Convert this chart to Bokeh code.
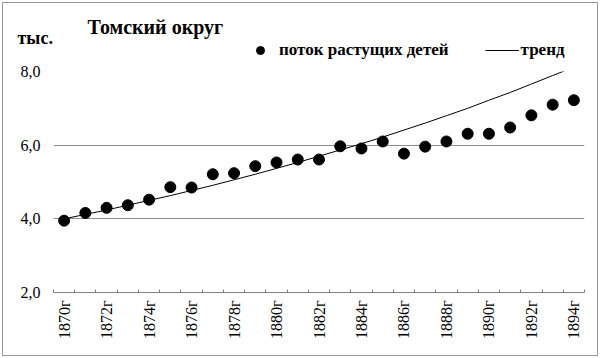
from bokeh.plotting import figure
from bokeh.layouts import column
from bokeh.models import (FixedTicker, Label, Legend, LegendItem, Range1d,
                          ColumnDataSource, InlineStyleSheet)
from bokeh.embed import file_html
from bokeh.resources import INLINE
from math import pi

years = list(range(1870, 1895))
flow = [3.95, 4.16, 4.30, 4.37, 4.52, 4.86, 4.85, 5.21, 5.24, 5.43, 5.53, 5.61,
        5.61, 5.97, 5.91, 6.10, 5.77, 5.96, 6.10, 6.31, 6.31, 6.48, 6.81, 7.10, 7.22]
trend = [4.00, 4.12, 4.24, 4.37, 4.50, 4.63, 4.77, 4.91, 5.06, 5.21, 5.37, 5.53,
         5.70, 5.87, 6.04, 6.22, 6.41, 6.60, 6.80, 7.00, 7.22, 7.43, 7.66, 7.89, 8.12]
y_ticks = [2, 4, 6, 8]
y_labels = ["2,0", "4,0", "6,0", "8,0"]
x_label_years = years[::2]
x_labels = [f"{y}г" for y in x_label_years]
title_text = "Томский округ"
unit_text = "тыс."
series_names = ["поток растущих детей", "тренд"]

FONT = "Liberation Serif"
DOT_SIZE = 11


def no_frame_align(fig):
    if "frame_align" in fig.properties():
        fig.frame_align = False


src = ColumnDataSource(dict(year=years, flow=flow, trend=trend))

# ---------- header (title, unit, legend) ----------
hdr = figure(width=600, height=63, output_backend="svg", toolbar_location=None,
             x_range=Range1d(0, 1), y_range=Range1d(0, 1),
             x_axis_type=None, y_axis_type=None,
             min_border=0, min_border_left=0, min_border_right=0,
             min_border_top=0, min_border_bottom=0)
hdr.outline_line_color = None
hdr.grid.visible = False
no_frame_align(hdr)

hdr.add_layout(Label(x=87, y=37, x_units="screen", y_units="screen",
                     text=title_text, text_font=FONT, text_font_size="20px",
                     text_font_style="bold", text_color="black",
                     text_baseline="alphabetic"))
hdr.add_layout(Label(x=17, y=26, x_units="screen", y_units="screen",
                     text=unit_text, text_font=FONT, text_font_size="18px",
                     text_font_style="bold", text_color="black",
                     text_baseline="alphabetic"))

# legend proxies: same data, but outside the header's ranges (never visible)
h_dot = hdr.scatter("year", "flow", source=src, size=DOT_SIZE, color="black")
h_line = hdr.line("year", "trend", source=src, line_color="black", line_width=1)
legend = Legend(items=[LegendItem(label=series_names[0], renderers=[h_dot]),
                       LegendItem(label=series_names[1], renderers=[h_line])],
                location=(243, 3), orientation="horizontal",
                glyph_width=34, glyph_height=20, label_standoff=2, spacing=36,
                padding=0, margin=0,
                border_line_color=None, background_fill_alpha=0,
                label_text_font=FONT, label_text_font_size="17px",
                label_text_font_style="bold", label_text_color="black")
hdr.add_layout(legend, "center")

# ---------- main chart ----------
p = figure(width=600, height=295, output_backend="svg", toolbar_location=None,
           x_range=Range1d(1869.5, 1894.5), y_range=Range1d(2, 8),
           min_border_left=53, min_border_right=16, min_border_top=8,
           min_border_bottom=66)
p.outline_line_color = None
no_frame_align(p)

p.line("year", "trend", source=src, line_color="black", line_width=1)
p.scatter("year", "flow", source=src, size=DOT_SIZE, color="black")

p.xaxis.ticker = FixedTicker(ticks=x_label_years,
                             minor_ticks=[y - 0.5 for y in years] + [years[-1] + 0.5])
p.xaxis.major_label_overrides = {y: l for y, l in zip(x_label_years, x_labels)}
p.xaxis.major_label_orientation = pi / 2
p.xaxis.major_tick_out = 0
p.xaxis.major_tick_in = 0
p.xaxis.minor_tick_in = 3
p.xaxis.minor_tick_out = 0
p.xaxis.minor_tick_line_color = "#808080"
p.xaxis.axis_line_color = "#808080"
p.xaxis.major_label_text_font = FONT
p.xaxis.major_label_text_font_size = "16px"
p.xaxis.major_label_text_color = "black"
p.xaxis.major_label_standoff = 8

p.yaxis.ticker = FixedTicker(ticks=y_ticks)
p.yaxis.major_label_overrides = {t: l for t, l in zip(y_ticks, y_labels)}
p.yaxis.axis_line_color = None
p.yaxis.major_tick_line_color = None
p.yaxis.major_tick_out = 0
p.yaxis.major_tick_in = 0
p.yaxis.minor_tick_line_color = None
p.yaxis.major_label_text_font = FONT
p.yaxis.major_label_text_font_size = "16px"
p.yaxis.major_label_text_color = "black"
p.yaxis.major_label_standoff = 13

p.xgrid.grid_line_color = None
p.ygrid.ticker = FixedTicker(ticks=y_ticks)
p.ygrid.grid_line_color = "#8c8c8c"
p.ygrid.grid_line_width = 1

layout = column(hdr, p, spacing=0)
layout.stylesheets = [InlineStyleSheet(css=(
    ":host { position: relative; }"
    ":host::after { content: ''; position: absolute; left: 2px; top: 2px; "
    "right: 2px; bottom: 2px; border: 1px solid #999999; "
    "pointer-events: none; z-index: 100; }"))]
open("out.html", "w").write(file_html(layout, INLINE))
